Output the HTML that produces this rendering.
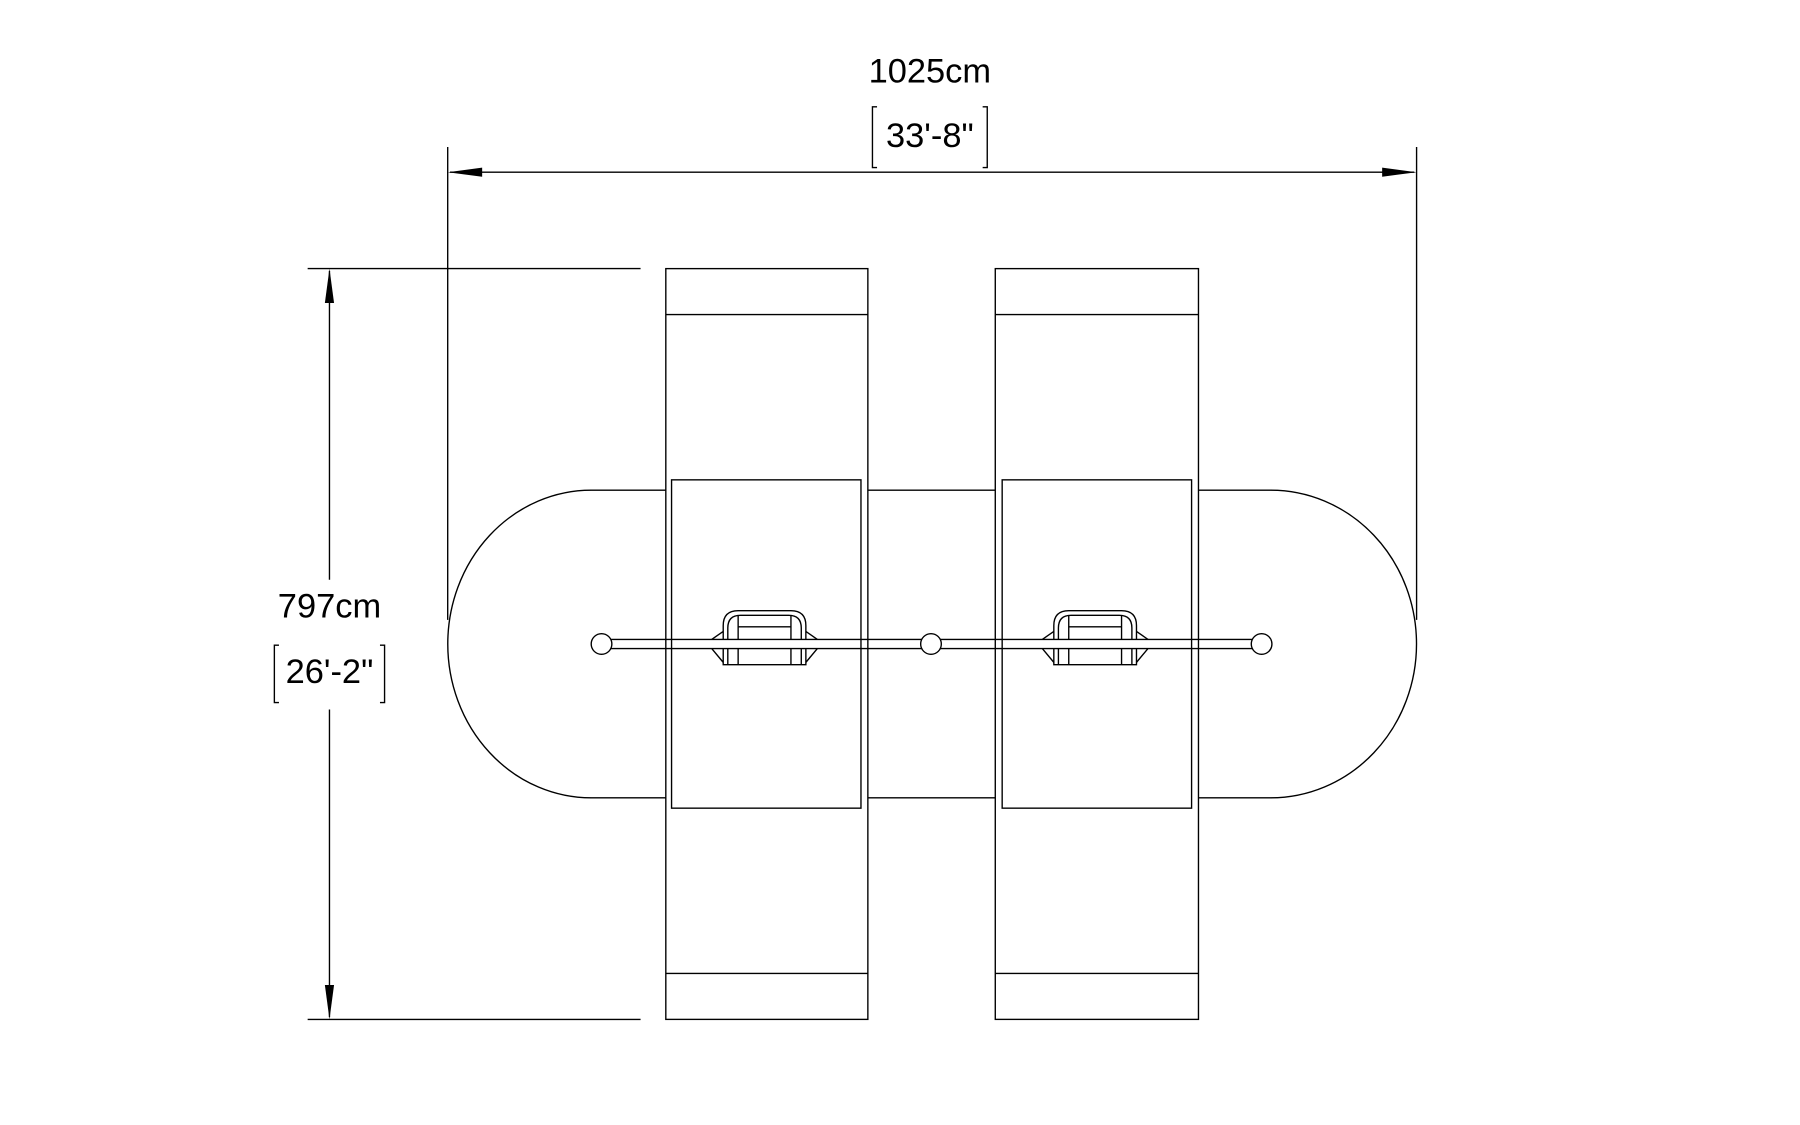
<!DOCTYPE html>
<html><head><meta charset="utf-8"><style>
html,body{margin:0;padding:0;background:#fff;}
svg{display:block;}
text{font-family:"Liberation Sans",sans-serif;fill:#000;}
</style></head><body>
<svg width="1800" height="1125" viewBox="0 0 1568 980" xmlns="http://www.w3.org/2000/svg">
<g fill="none" stroke="#000" stroke-width="1.2">
<line x1="390" y1="128" x2="390" y2="540"/>
<line x1="1234" y1="128" x2="1234" y2="540"/>
<line x1="392" y1="150" x2="1232" y2="150"/>
<path d="M764 93 h-4 v53 h4 M856 93 h4 v53 h-4"/>
<line x1="268" y1="234" x2="558" y2="234"/>
<line x1="268" y1="888" x2="558" y2="888"/>
<line x1="287" y1="236" x2="287" y2="505"/>
<line x1="287" y1="618" x2="287" y2="886"/>
<path d="M243 562 h-4 v50 h4 M331 562 h4 v50 h-4"/>
<path d="M580 427 H515 A125 134 0 0 0 515 695 H580"/>
<path d="M1044 427 H1107 A127 134 0 0 1 1107 695 H1044"/>
<line x1="756" y1="427" x2="867" y2="427"/>
<line x1="756" y1="695" x2="867" y2="695"/>
<rect x="580" y="234" width="176" height="654"/>
<line x1="580" y1="274" x2="756" y2="274"/>
<line x1="580" y1="848" x2="756" y2="848"/>
<rect x="867" y="234" width="177" height="654"/>
<line x1="867" y1="274" x2="1044" y2="274"/>
<line x1="867" y1="848" x2="1044" y2="848"/>
<rect x="585" y="418" width="165" height="286"/>
<rect x="873" y="418" width="165" height="286"/>
<g id="s1">
<path d="M630 557 V545 Q630 532 643 532 H689 Q702 532 702 545 V557"/>
<path d="M634 557 V547 Q634 536 645 536 H687 Q698 536 698 547 V557"/>
<line x1="643" y1="536" x2="643" y2="557"/>
<line x1="689" y1="536" x2="689" y2="557"/>
<line x1="643" y1="546" x2="689" y2="546"/>
<path d="M630 565 V579 H702 V565"/>
<path d="M643 565 V579 M689 565 V579 M634 565 V579 M698 565 V579"/>
<path d="M620 557 L630 550 M712 557 L702 550 M620 565 L630 577 M712 565 L702 577"/>
</g>
<use href="#s1" x="288"/>
<line x1="524" y1="557" x2="1099" y2="557"/>
<line x1="524" y1="565" x2="1099" y2="565"/>
<circle cx="524" cy="561" r="9" fill="#fff"/>
<circle cx="811" cy="561" r="9" fill="#fff"/>
<circle cx="1099" cy="561" r="9" fill="#fff"/>
</g>
<path d="M390 150 L420 146 L420 154 Z"/>
<path d="M1234 150 L1204 146 L1204 154 Z"/>
<path d="M287 234 L283 264 L291 264 Z"/>
<path d="M287 888 L283 858 L291 858 Z"/>
<text x="810" y="72" font-size="30" text-anchor="middle">1025cm</text>
<text x="810" y="128" font-size="30" text-anchor="middle">33'-8"</text>
<text x="287" y="538" font-size="30" text-anchor="middle">797cm</text>
<text x="287" y="595" font-size="30" text-anchor="middle">26'-2"</text>
</svg>
</body></html>
